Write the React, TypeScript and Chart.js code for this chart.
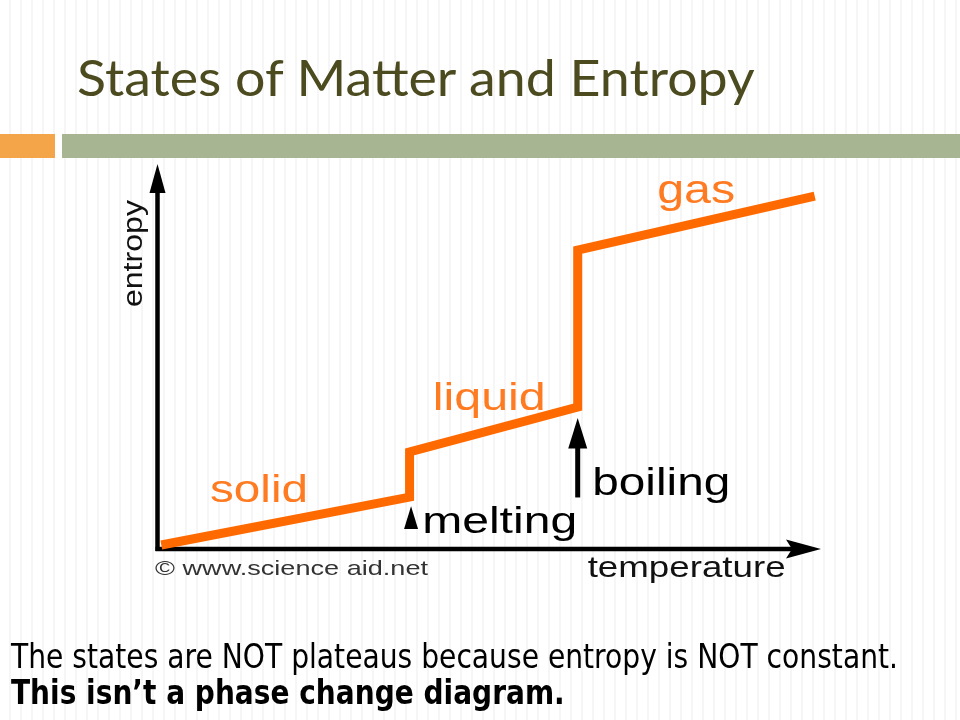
import React, { useEffect, useLayoutEffect, useRef } from "react";
import { Chart, registerables } from "chart.js";

Chart.register(...registerables);

// ---- data ----
const temperature = [0.5, 38, 38, 63.4, 63.4, 99.2];
const entropy = [0.8, 13.4, 25.3, 37.1, 78.4, 92.6];
const phaseNames = ["solid", "liquid", "gas"];
const transitionNames = ["melting", "boiling"];
const axisTitles = ["temperature", "entropy"];
const credit = "\u00A9 www.science aid.net";
const slideTitle = "States of Matter and Entropy";
const noteLines = [
  "The states are NOT plateaus because entropy is NOT constant.",
  "This isn\u2019t a phase change diagram.",
];

const LINE_ORANGE = "#FF6A00";
const LABEL_ORANGE = "#FF7B22";
const CHART_FONT = "'Liberation Sans', Arial, sans-serif";

function fitText(
  ctx: CanvasRenderingContext2D,
  text: string,
  x: number,
  y: number,
  size: number,
  width: number,
  color: string
) {
  ctx.save();
  ctx.font = `${size}px ${CHART_FONT}`;
  ctx.textBaseline = "alphabetic";
  ctx.textAlign = "left";
  const w = ctx.measureText(text).width;
  ctx.translate(x, y);
  ctx.scale(width / w, 1);
  ctx.fillStyle = color;
  ctx.fillText(text, 0, 0);
  ctx.restore();
}

const diagramPlugin = {
  id: "diagram",
  beforeDatasetsDraw(chart: any) {
    const { ctx } = chart;
    const xs = chart.scales.x;
    const ys = chart.scales.y;
    const x0 = xs.getPixelForValue(0);
    const y0 = ys.getPixelForValue(0);
    const xEnd = xs.getPixelForValue(100);
    const yEnd = ys.getPixelForValue(100);
    ctx.save();
    ctx.strokeStyle = "#000";
    ctx.fillStyle = "#000";
    ctx.lineWidth = 4.5;
    ctx.lineCap = "butt";
    // y axis
    ctx.beginPath();
    ctx.moveTo(x0 - 0.5, y0 + 3);
    ctx.lineTo(x0 - 0.5, yEnd + 20);
    ctx.stroke();
    ctx.beginPath();
    ctx.moveTo(x0 - 0.5, yEnd - 4);
    ctx.lineTo(x0 + 7.5, yEnd + 25);
    ctx.lineTo(x0 - 8.5, yEnd + 25);
    ctx.closePath();
    ctx.fill();
    // x axis
    ctx.beginPath();
    ctx.moveTo(x0 - 2.5, y0 + 1);
    ctx.lineTo(xEnd - 25, y0 + 1);
    ctx.stroke();
    ctx.beginPath();
    ctx.moveTo(xEnd + 1, y0 + 1);
    ctx.lineTo(xEnd - 34, y0 - 8.5);
    ctx.lineTo(xEnd - 28, y0 + 1);
    ctx.lineTo(xEnd - 34, y0 + 10.5);
    ctx.closePath();
    ctx.fill();
    ctx.restore();
  },
  afterDatasetsDraw(chart: any) {
    const { ctx } = chart;
    const xs = chart.scales.x;
    const ys = chart.scales.y;
    const px = (v: number) => xs.getPixelForValue(v);
    const py = (v: number) => ys.getPixelForValue(v);

    // phase labels
    fitText(ctx, phaseNames[0], px(7.85), py(12.1), 38, 98, LABEL_ORANGE);
    fitText(ctx, phaseNames[1], px(41.5), py(36.3), 39, 113, LABEL_ORANGE);
    fitText(ctx, phaseNames[2], px(75.4), py(90.8), 40, 78, LABEL_ORANGE);

    // melting arrow (small filled triangle) at melting temperature
    ctx.save();
    ctx.fillStyle = "#000";
    const mx = px(temperature[1]) + 1.5;
    ctx.beginPath();
    ctx.moveTo(mx, py(11));
    ctx.lineTo(mx + 7, py(5));
    ctx.lineTo(mx - 7, py(5));
    ctx.closePath();
    ctx.fill();
    // boiling arrow
    const bx = px(temperature[3]);
    ctx.beginPath();
    ctx.moveTo(bx, py(34.2));
    ctx.lineTo(bx + 9.5, py(26.2));
    ctx.lineTo(bx - 9.5, py(26.2));
    ctx.closePath();
    ctx.fill();
    ctx.fillRect(bx - 2.5, py(27), 5, py(13.3) - py(27));
    ctx.restore();

    fitText(ctx, transitionNames[0], px(39.9), py(3.9), 37, 155, "#000");
    fitText(ctx, transitionNames[1], px(65.6), py(13.9), 38, 138, "#000");

    // axis titles
    fitText(ctx, axisTitles[0], px(64.9), py(-7.6), 29, 198, "#111");
    ctx.save();
    ctx.translate(px(-2.4), py(63.4));
    ctx.rotate(-Math.PI / 2);
    fitText(ctx, axisTitles[1], 0, 0, 27, 107, "#111");
    ctx.restore();

    // credit
    fitText(ctx, credit, px(-0.45), py(-7.2), 21, 273, "#333");
  },
};

function FitText(props: {
  text: string;
  left: number;
  baseline: number;
  width: number;
  font: string;
  color: string;
}) {
  const { text, left, baseline, width, font, color } = props;
  const boxRef = useRef<HTMLDivElement>(null);
  const spanRef = useRef<HTMLSpanElement>(null);
  const markRef = useRef<HTMLSpanElement>(null);
  useLayoutEffect(() => {
    const apply = () => {
      const box = boxRef.current;
      const span = spanRef.current;
      const mark = markRef.current;
      if (!box || !span || !mark) return;
      const w = span.offsetWidth;
      if (w > 0) span.style.transform = `scaleX(${width / w})`;
      box.style.top = `${baseline - mark.offsetTop}px`;
    };
    apply();
    if ((document as any).fonts && (document as any).fonts.ready) {
      (document as any).fonts.ready.then(apply);
    }
  }, [text, left, baseline, width, font]);
  return (
    <div
      ref={boxRef}
      style={{
        position: "absolute",
        left,
        top: 0,
        whiteSpace: "nowrap",
        font,
        color,
        lineHeight: 1.2,
      }}
    >
      <span
        ref={spanRef}
        style={{ display: "inline-block", transformOrigin: "0 0" }}
      >
        {text}
        <span
          ref={markRef}
          style={{ display: "inline-block", width: 0, height: 0 }}
        />
      </span>
    </div>
  );
}

export default function App() {
  const canvasRef = useRef<HTMLCanvasElement>(null);

  useEffect(() => {
    const canvas = canvasRef.current;
    if (!canvas) return;
    const chart = new Chart(canvas, {
      type: "scatter",
      data: {
        datasets: [
          {
            label: "entropy",
            data: temperature.map((t, i) => ({ x: t, y: entropy[i] })),
            showLine: true,
            borderColor: LINE_ORANGE,
            backgroundColor: LINE_ORANGE,
            borderWidth: 9,
            borderJoinStyle: "miter",
            borderCapStyle: "butt",
            pointRadius: 0,
            tension: 0,
            clip: 20,
          } as any,
        ],
      },
      options: {
        animation: false,
        responsive: false,
        devicePixelRatio: 1,
        layout: { padding: { left: 158, right: 140, top: 168, bottom: 172 } },
        plugins: {
          legend: { display: false },
          tooltip: { enabled: false },
          title: { display: false },
        },
        scales: {
          x: { type: "linear", min: 0, max: 100, display: false },
          y: { type: "linear", min: 0, max: 100, display: false },
        },
        events: [],
      },
      plugins: [diagramPlugin],
    });
    return () => chart.destroy();
  }, []);

  return (
    <div
      style={{
        position: "absolute",
        left: 0,
        top: 0,
        width: 960,
        height: 720,
        overflow: "hidden",
        background:
          "repeating-linear-gradient(90deg, #ffffff 0px, #ffffff 9px, #f6f6f6 9px, #f6f6f6 11px)",
      }}
    >
      <FitText
        text={slideTitle}
        left={77}
        baseline={96}
        width={678}
        font="50px 'Lato', 'DejaVu Sans', sans-serif"
        color="#4B4B1F"
      />
      <div
        style={{
          position: "absolute",
          left: 0,
          top: 134,
          width: 55,
          height: 24,
          background: "#F4A54A",
        }}
      />
      <div
        style={{
          position: "absolute",
          left: 62,
          top: 134,
          width: 898,
          height: 24,
          background: "#A7B592",
        }}
      />
      <canvas
        ref={canvasRef}
        width={960}
        height={720}
        style={{
          position: "absolute",
          left: 0,
          top: 0,
          width: 960,
          height: 720,
        }}
      />
      <FitText
        text={noteLines[0]}
        left={11}
        baseline={668}
        width={887}
        font="34px 'DejaVu Sans', sans-serif"
        color="#000"
      />
      <FitText
        text={noteLines[1]}
        left={11}
        baseline={704}
        width={554}
        font="bold 34px 'DejaVu Sans', sans-serif"
        color="#000"
      />
    </div>
  );
}
